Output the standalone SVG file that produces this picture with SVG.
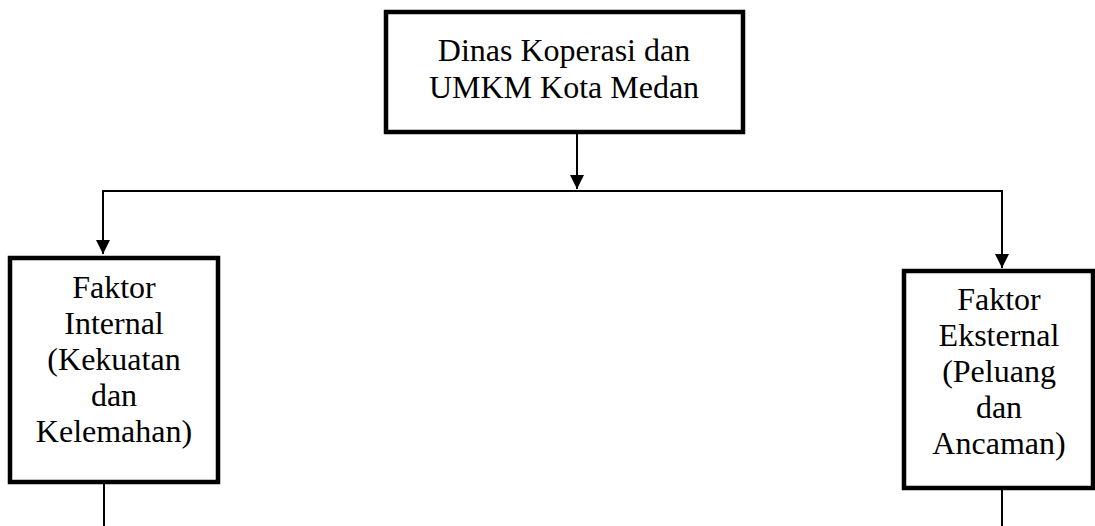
<svg xmlns="http://www.w3.org/2000/svg" width="1095" height="526" viewBox="0 0 1095 526">
  <style>
    .box { fill: #ffffff; stroke: #000000; stroke-width: 4.5; }
    .conn { fill: none; stroke: #000000; stroke-width: 2; }
    .lbl { font-family: "Liberation Serif", "Times New Roman", serif; font-size: 32px; fill: #000000; text-anchor: middle; }
  </style>
  <defs>
    <marker id="arrow" viewBox="0 0 14 14" refX="14" refY="7" markerWidth="14" markerHeight="14" markerUnits="userSpaceOnUse" orient="auto">
      <path d="M0,0 L14,7 L0,14 Z" fill="#000000"/>
    </marker>
  </defs>
  <rect width="1095" height="526" fill="#ffffff"/>
  <g id="connectors">
    <line class="conn" x1="577" y1="132" x2="577" y2="189" marker-end="url(#arrow)"/>
    <line class="conn" x1="102" y1="191" x2="1003" y2="191"/>
    <line class="conn" x1="103" y1="190" x2="103" y2="254" marker-end="url(#arrow)"/>
    <line class="conn" x1="1002" y1="190" x2="1002" y2="268" marker-end="url(#arrow)"/>
    <line class="conn" x1="104" y1="482" x2="104" y2="526"/>
    <line class="conn" x1="1002" y1="488" x2="1002" y2="526"/>
  </g>
  <g id="node-dinas">
    <rect class="box" x="386" y="12" width="357" height="120"/>
    <text class="lbl" x="564" y="61">Dinas Koperasi dan</text>
    <text class="lbl" x="564" y="98">UMKM Kota Medan</text>
  </g>
  <g id="node-internal">
    <rect class="box" x="10" y="258" width="208" height="224"/>
    <text class="lbl" x="114" y="298">Faktor</text>
    <text class="lbl" x="114" y="334">Internal</text>
    <text class="lbl" x="114" y="370">(Kekuatan</text>
    <text class="lbl" x="114" y="406">dan</text>
    <text class="lbl" x="114" y="442">Kelemahan)</text>
  </g>
  <g id="node-eksternal">
    <rect class="box" x="904" y="271" width="189" height="217"/>
    <text class="lbl" x="999" y="310">Faktor</text>
    <text class="lbl" x="999" y="346">Eksternal</text>
    <text class="lbl" x="999" y="382">(Peluang</text>
    <text class="lbl" x="999" y="418">dan</text>
    <text class="lbl" x="999" y="454">Ancaman)</text>
  </g>
</svg>
